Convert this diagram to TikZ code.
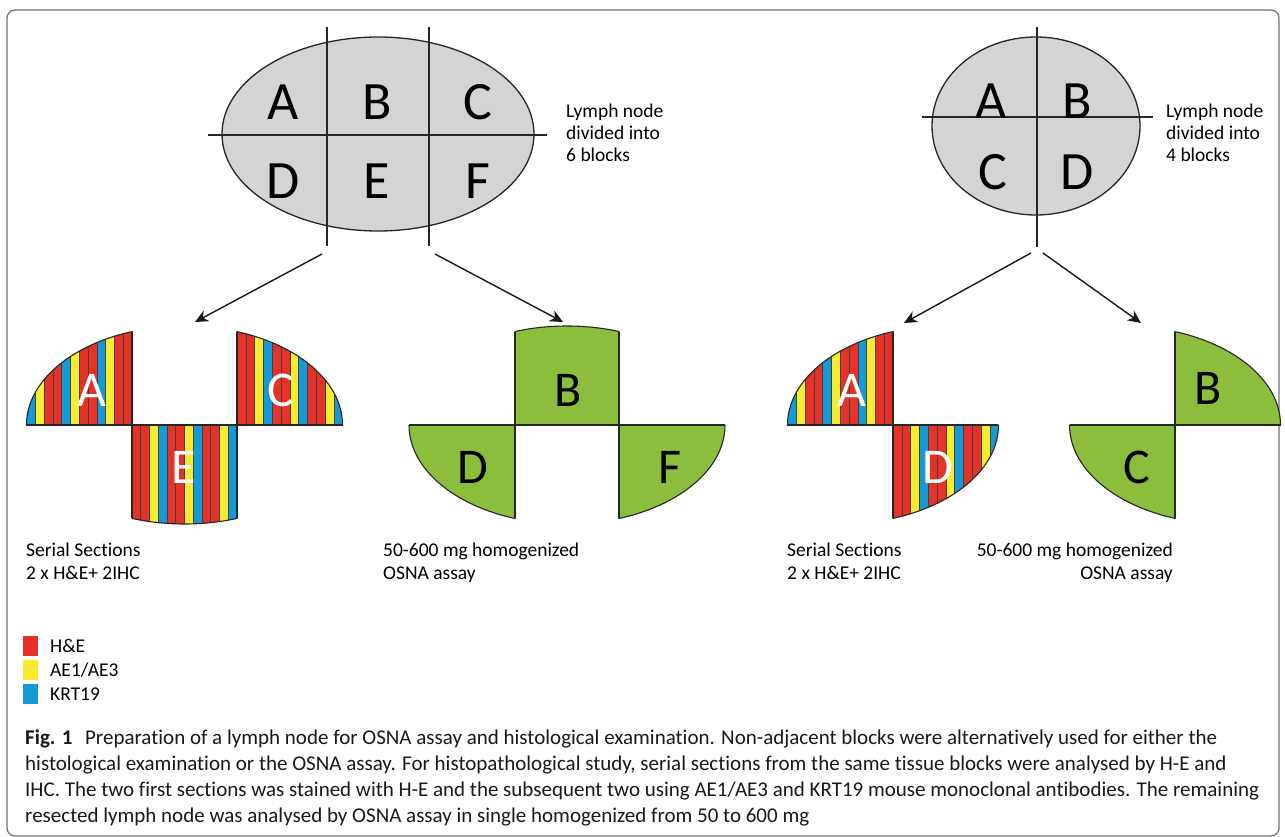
\documentclass[tikz,border=0pt]{standalone}
\usepackage{fontspec}
\setmainfont{Carlito}[Ligatures=NoCommon]
\usetikzlibrary{arrows.meta}
\definecolor{hered}{RGB}{228,50,40}
\definecolor{heyel}{RGB}{248,236,48}
\definecolor{heblue}{RGB}{20,155,215}
\definecolor{ogreen}{RGB}{138,190,60}
\definecolor{lngray}{RGB}{212,212,212}
\colorlet{col0}{hered}\colorlet{col1}{hered}\colorlet{col2}{heyel}\colorlet{col3}{heblue}
\newcommand{\pieceRx}{158}
\newcommand{\pieceRy}{99}
% stripes: start x, signed width
\newcommand{\mkstripes}[2]{%
  \foreach \i in {0,...,11}{%
    \pgfmathtruncatemacro{\k}{mod(\i,4)}%
    \filldraw[fill=col\k, draw=black!75, line width=0.6] ({#1+\i*(#2)},315) rectangle ({#1+(\i+1)*(#2)},545);}}
% outline of piece: cx, x1,y1,x2,y2
\newcommand{\mkoutline}[5]{%
  \begin{scope}\clip (#1,425) ellipse [x radius=\pieceRx, y radius=\pieceRy];
    \draw[outl] (#2,#3) rectangle (#4,#5);\end{scope}
  \begin{scope}\clip (#2,#3) rectangle (#4,#5);
    \draw[outl] (#1,425) ellipse [x radius=\pieceRx, y radius=\pieceRy];\end{scope}}
\newcommand{\greenpiece}[5]{%
  \begin{scope}\clip (#1,425) ellipse [x radius=\pieceRx, y radius=\pieceRy];
    \fill[ogreen] (#2,#3) rectangle (#4,#5);\end{scope}
  \mkoutline{#1}{#2}{#3}{#4}{#5}}
% cx, x1,y1,x2,y2, stripe start, stripe width
\newcommand{\stripepiece}[7]{%
  \begin{scope}\clip (#1,425) ellipse [x radius=\pieceRx, y radius=\pieceRy];
    \clip (#2,#3) rectangle (#4,#5);
    \mkstripes{#6}{#7}\end{scope}
  \mkoutline{#1}{#2}{#3}{#4}{#5}}
\begin{document}
\begin{tikzpicture}[x=1pt,y=-1pt,
  outl/.style={draw=black!85, line width=1.1},
  cut/.style={draw=black!85, line width=1.3},
  arr/.style={draw=black!90, line width=1.4, -{Stealth[length=13, width=12, inset=4]}},
  bigletter/.style={font=\fontsize{54}{54}\selectfont, text=black, inner sep=0},
  pletter/.style={font=\fontsize{50}{50}\selectfont, inner sep=0},
  lbl/.style={font=\fontsize{19.5}{22}\selectfont, anchor=base west, inner sep=0},
  captext/.style={font=\fontsize{21}{26}\selectfont, anchor=base west, inner sep=0, text=black!90},
  legsq/.style={inner sep=0, minimum width=15, minimum height=20}]
\useasboundingbox (0,0) rectangle (1285,837);
\fill[white] (0,0) rectangle (1285,837);
\draw[black!55, line width=1.3, rounded corners=8] (7,10) rectangle (1279,836);

% ---------- left lymph node (6 blocks) ----------
\filldraw[fill=lngray, draw=black!85, line width=1.3] (378,134) ellipse [x radius=156, y radius=97];
\draw[cut] (327,27) -- (327,246);
\draw[cut] (429,27) -- (429,246);
\draw[cut] (208,135) -- (547,135);
\node[bigletter] (lA) at (283,102) {A};
\node[bigletter] (lB) at (377,102) {B};
\node[bigletter] (lC) at (478,102) {C};
\node[bigletter] (lD) at (283,181) {D};
\node[bigletter] (lE) at (377,181) {E};
\node[bigletter] (lF) at (478,181) {F};
\node[lbl] (l6a) at (566,118) {Lymph node};
\node[lbl] (l6b) at (566,140) {divided into};
\node[lbl] (l6c) at (566,162) {6 blocks};

% ---------- right lymph node (4 blocks) ----------
\filldraw[fill=lngray, draw=black!85, line width=1.3] (1036,126) ellipse [x radius=104, y radius=89];
\draw[cut] (1037,27) -- (1037,247);
\draw[cut] (922,117) -- (1153,117);
\node[bigletter] (rA) at (991,101) {A};
\node[bigletter] (rB) at (1077,101) {B};
\node[bigletter] (rC) at (993,172) {C};
\node[bigletter] (rD) at (1077,172) {D};
\node[lbl] (r4a) at (1166,118) {Lymph node};
\node[lbl] (r4b) at (1166,140) {divided into};
\node[lbl] (r4c) at (1166,162) {4 blocks};

% ---------- arrows ----------
\coordinate (s1) at (322,254); \coordinate (t1) at (195,322);
\coordinate (s2) at (435,254); \coordinate (t2) at (563,322);
\coordinate (s3) at (1031,253); \coordinate (t3) at (904,323);
\coordinate (s4) at (1043,253); \coordinate (t4) at (1141,323);
\draw[arr] (s1) -- (t1);
\draw[arr] (s2) -- (t2);
\draw[arr] (s3) -- (t3);
\draw[arr] (s4) -- (t4);

% ---------- left striped group ----------
\stripepiece{184.5}{15}{320}{132}{425}{132}{-8.8}
\stripepiece{184.5}{132}{425}{237}{540}{132}{8.75}
\stripepiece{184.5}{237}{320}{355}{425}{237}{8.8}
\node[pletter, text=white] (sA) at (92,390) {A};
\node[pletter, text=white] (sE) at (184,467) {E};
\node[pletter, text=white] (sC) at (281,390) {C};

% ---------- left green group ----------
\greenpiece{567}{515}{315}{619}{425}
\greenpiece{567}{400}{425}{515}{540}
\greenpiece{567}{619}{425}{735}{540}
\node[pletter, text=black] (gB) at (568,390) {B};
\node[pletter, text=black] (gD) at (473,467) {D};
\node[pletter, text=black] (gF) at (670,467) {F};

% ---------- right striped group ----------
\stripepiece{945.5}{775}{320}{893}{425}{893}{-8.8}
\stripepiece{840.5}{893}{425}{1010}{540}{893}{8.8}
\node[pletter, text=white] (sA2) at (852,390) {A};
\node[pletter, text=white] (sD2) at (938,467) {D};

% ---------- right green group ----------
\greenpiece{1122.5}{1175}{320}{1290}{425}
\greenpiece{1227.5}{1060}{425}{1175}{540}
\node[pletter, text=black] (gB2) at (1208,388) {B};
\node[pletter, text=black] (gC2) at (1137,467) {C};

% ---------- labels under groups ----------
\node[lbl] (ss1) at (26,556) {Serial Sections};
\node[lbl] (ss2) at (26,579) {2 x H\&E+ 2IHC};
\node[lbl] (ho1) at (383,556) {50-600 mg homogenized};
\node[lbl] (ho2) at (383,579) {OSNA assay};
\node[lbl] (ss3) at (787,556) {Serial Sections};
\node[lbl] (ss4) at (787,579) {2 x H\&E+ 2IHC};
\node[lbl, anchor=base east] (ho3) at (1173,556) {50-600 mg homogenized};
\node[lbl, anchor=base east] (ho4) at (1173,579) {OSNA assay};

% ---------- legend ----------
\node[legsq, fill=hered] (k1) at (30.5,646) {};
\node[legsq, fill=heyel] (k2) at (30.5,670) {};
\node[legsq, fill=heblue] (k3) at (30.5,694) {};
\node[lbl] (k1t) at (50,652) {H\&E};
\node[lbl] (k2t) at (50,676) {AE1/AE3};
\node[lbl] (k3t) at (50,700) {KRT19};

% ---------- caption ----------
\node[captext] (c1) at (25,744) {\textbf{Fig. 1}\hspace{0.6em}Preparation of a lymph node for OSNA assay and histological examination. Non-adjacent blocks were alternatively used for either the};
\node[captext] (c2) at (25,770) {histological examination or the OSNA assay. For histopathological study, serial sections from the same tissue blocks were analysed by H-E and};
\node[captext] (c3) at (25,796) {IHC. The two first sections was stained with H-E and the subsequent two using AE1/AE3 and KRT19 mouse monoclonal antibodies. The remaining};
\node[captext] (c4) at (25,822) {resected lymph node was analysed by OSNA assay in single homogenized from 50 to 600 mg};
\end{tikzpicture}
\end{document}
